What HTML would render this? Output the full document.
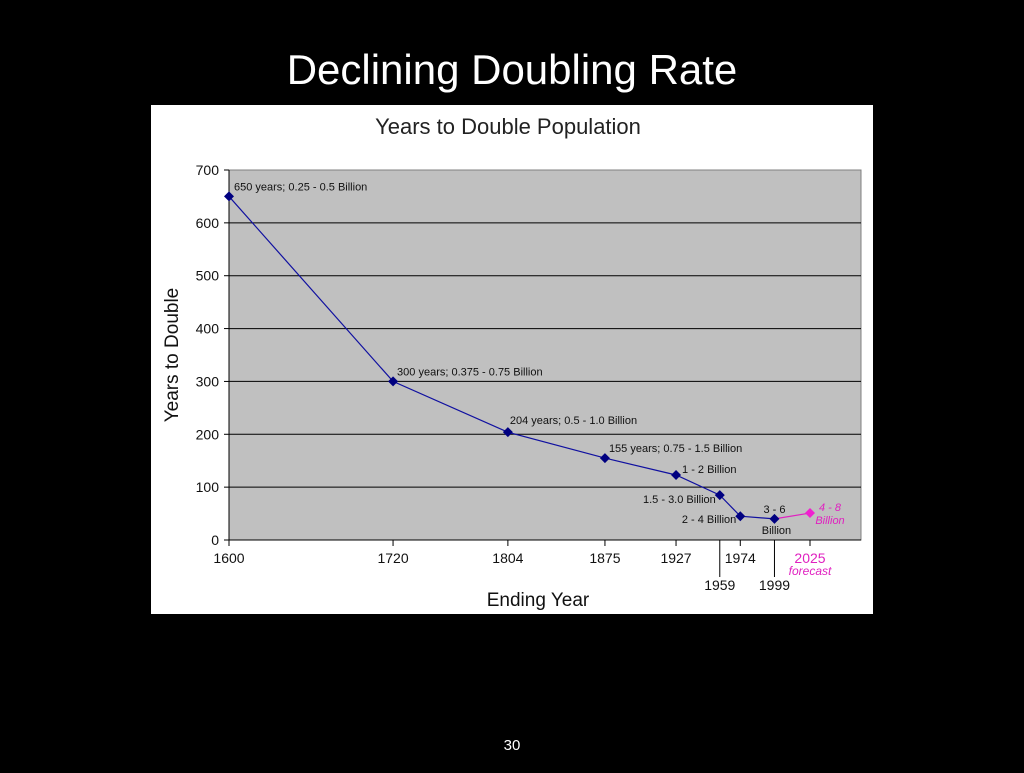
<!DOCTYPE html>
<html><head><meta charset="utf-8"><style>
body{margin:0;background:#000;width:1024px;height:768px;overflow:hidden;font-family:"Liberation Sans",sans-serif}
</style></head><body>
<svg width="1024" height="768">
<text x="512" y="84" fill="#fff" font-size="42" text-anchor="middle">Declining Doubling Rate</text>
<rect x="151" y="105" width="722" height="509" fill="#fff"/>
<text x="508" y="134" font-size="22" text-anchor="middle" fill="#222">Years to Double Population</text>
<rect x="229" y="170" width="632" height="370" fill="#c0c0c0" stroke="#808080"/>
<g id="grid"></g>
<g id="axes"></g>
<g id="marks"></g>
<text x="178" y="355" font-size="19" text-anchor="middle" transform="rotate(-90 178 355)" fill="#111">Years to Double</text>
<text x="538" y="606" font-size="19" text-anchor="middle" fill="#111">Ending Year</text>
<text x="512" y="750" fill="#fff" font-size="15" text-anchor="middle">30</text>
</svg>
<script>
const years=[1600,1720,1804,1875,1927,1959,1974,1999];
const values=[650,300,204,155,123,85,45,40];
const forecastYear=[2025];
const forecastValue=[51];
const yTicks=[0,100,200,300,400,500,600,700];
const xTicks=[1600,1720,1804,1875,1927,1974,2025];
const xLowTicks=[1959,1999];
const labels=["650 years; 0.25 - 0.5 Billion","300 years; 0.375 - 0.75 Billion","204 years; 0.5 - 1.0 Billion","155 years; 0.75 - 1.5 Billion","1 - 2 Billion","1.5 - 3.0 Billion","2 - 4 Billion","3 - 6"];
const NS="http://www.w3.org/2000/svg";
const X=y=>229+(y-1600)*(632/462.3);
const Y=v=>540-v*370/700;
function mk(p,t,a){const e=document.createElementNS(NS,t);for(const k in a)e.setAttribute(k,a[k]);p.appendChild(e);return e;}
const grid=document.getElementById('grid'),axes=document.getElementById('axes'),marks=document.getElementById('marks');
yTicks.forEach(v=>{
 if(v>0&&v<700){const l=mk(grid,'line',{x1:229,x2:861,y1:Y(v),y2:Y(v),stroke:'#000','stroke-width':1});}
 mk(axes,'line',{x1:224,x2:229,y1:Y(v),y2:Y(v),stroke:'#000'});
 const t=mk(axes,'text',{x:219,y:Y(v)+5,'font-size':14,'text-anchor':'end',fill:'#111'});t.textContent=v;
 
});
mk(axes,'line',{x1:229,x2:229,y1:170,y2:540,stroke:'#000'});
mk(axes,'line',{x1:229,x2:861,y1:540,y2:540,stroke:'#000'});
xTicks.forEach(y=>{
 const f=y===2025;
 mk(axes,'line',{x1:X(y),x2:X(y),y1:540,y2:546,stroke:'#000'});
 const t=mk(axes,'text',{x:X(y),y:563,'font-size':14,'text-anchor':'middle',fill:f?'#e020c0':'#111'});t.textContent=y;
 
});
const fc=mk(axes,'text',{x:X(2025),y:575,'font-size':12,'font-style':'italic','text-anchor':'middle',fill:'#e020c0'});fc.textContent='forecast';
xLowTicks.forEach(y=>{
 mk(axes,'line',{x1:X(y),x2:X(y),y1:540,y2:577,stroke:'#000'});
 const t=mk(axes,'text',{x:X(y),y:590,'font-size':14,'text-anchor':'middle',fill:'#111'});t.textContent=y;
 
});
const pl=mk(marks,'polyline',{points:years.map((y,i)=>X(y)+','+Y(values[i])).join(' '),fill:'none',stroke:'#1010a0','stroke-width':1.2});

const fl=mk(marks,'line',{x1:X(1999),y1:Y(values[7]),x2:X(forecastYear[0]),y2:Y(forecastValue[0]),stroke:'#e020c0','stroke-width':1.2});

function diamond(x,y,c){const d=mk(marks,'path',{d:`M${x} ${y-5}L${x+5} ${y}L${x} ${y+5}L${x-5} ${y}Z`,fill:c});return d;}
const off=[[5,-6,'start'],[4,-6,'start'],[2,-8,'start'],[4,-6,'start'],[6,-2,'start'],[-4,8,'end'],[-4,7,'end'],[0,-6,'middle']];
years.forEach((y,i)=>{
 const d=diamond(X(y),Y(values[i]),'#000080');
 
 const o=off[i];const t=mk(marks,'text',{x:X(y)+o[0],y:Y(values[i])+o[1],'font-size':11,'text-anchor':o[2],fill:'#111'});t.textContent=labels[i];
 
});
const b=mk(marks,'text',{x:X(1999)+2,y:Y(values[7])+15,'font-size':11,'text-anchor':'middle',fill:'#111'});b.textContent='Billion';
const fd=diamond(X(forecastYear[0]),Y(forecastValue[0]),'#f020d0');

const f1=mk(marks,'text',{x:X(2025)+20,y:Y(forecastValue[0])-2,'font-size':11,'font-style':'italic','text-anchor':'middle',fill:'#e020c0'});f1.textContent='4 - 8';
const f2=mk(marks,'text',{x:X(2025)+20,y:Y(forecastValue[0])+11,'font-size':11,'font-style':'italic','text-anchor':'middle',fill:'#e020c0'});f2.textContent='Billion';
</script>
</body></html>
